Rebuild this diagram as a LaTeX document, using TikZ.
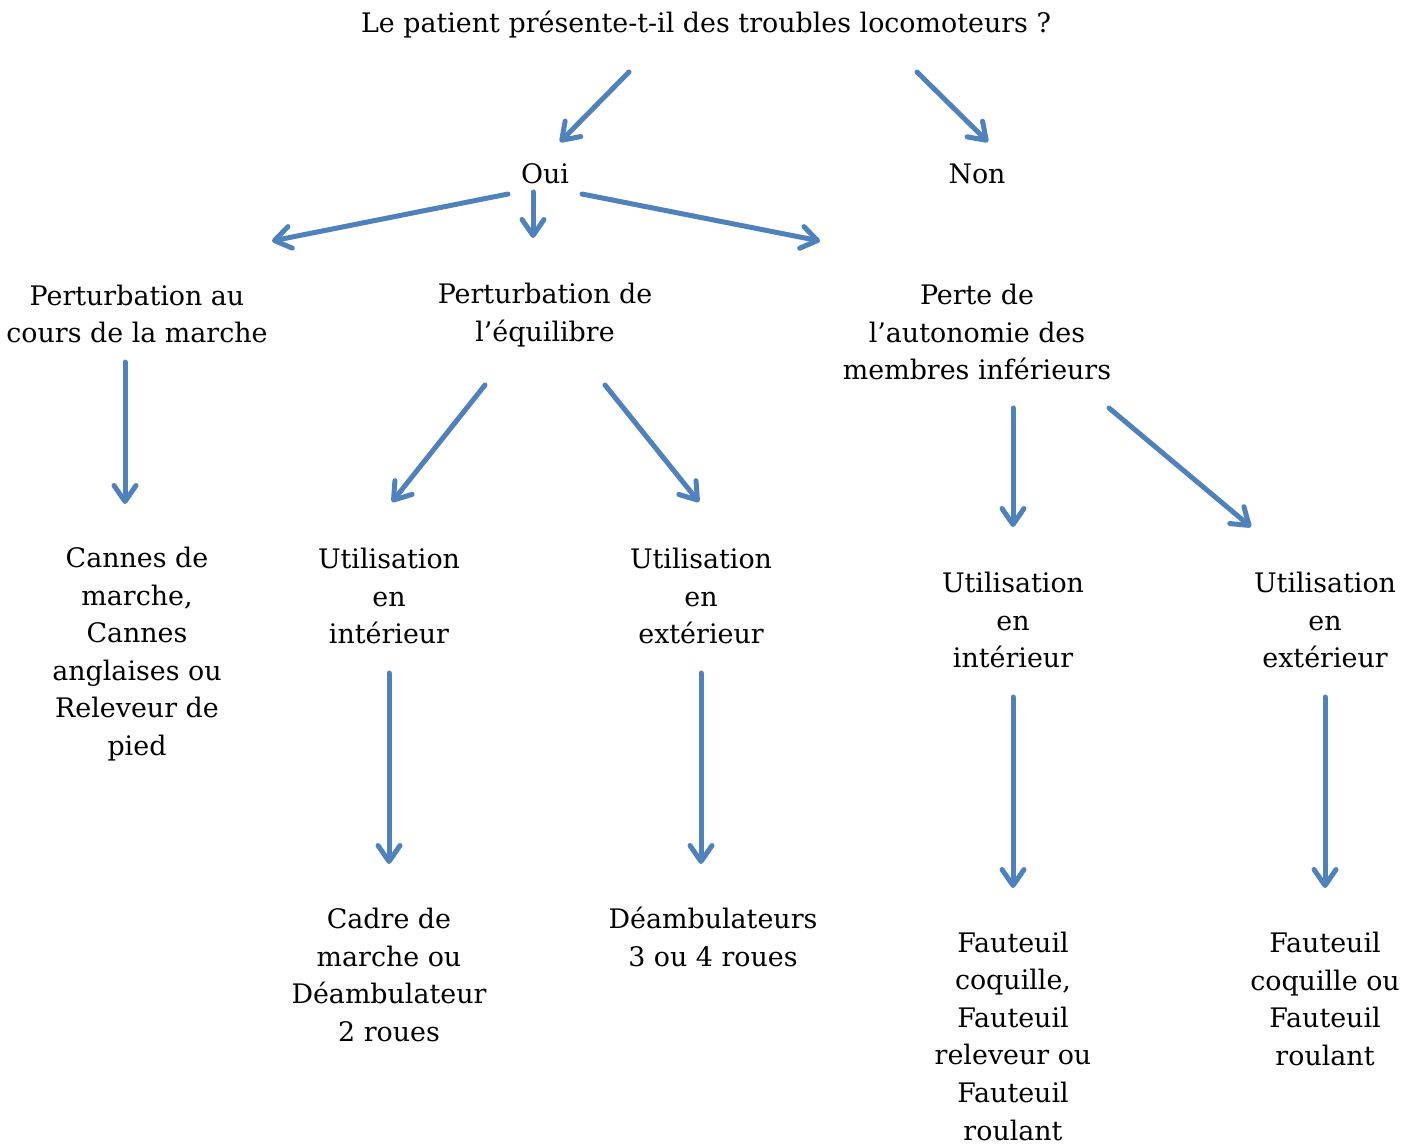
\documentclass[tikz,border=0pt]{standalone}
\usepackage{fontspec}
\setmainfont{DejaVu Serif}
\usetikzlibrary{arrows.meta}
\definecolor{arrowblue}{RGB}{79,129,189}

\begin{document}
\begin{tikzpicture}[x=0.02cm, y=-0.02cm,
	txt/.style={align=center, inner sep=0pt, font=\fontsize{15.3}{21.4}\selectfont},
	arr/.style={draw=arrowblue, line width=0.1cm, line cap=round,
		-{Straight Barb[length=0.32cm, width=0.44cm, line cap=round, line join=round]}}]
	\useasboundingbox (0,0) rectangle (1419,1144);

	%Nodes
	\node[txt] (question) at (706,25)   {Le patient présente-t-il des troubles locomoteurs ?};
	\node[txt] (oui)      at (545,174)  {Oui};
	\node[txt] (non)      at (977,174)  {Non};
	\node[txt] (marche)   at (137,314)  {Perturbation au\\cours de la marche};
	\node[txt] (equil)    at (545,315)  {Perturbation de\\l’équilibre};
	\node[txt] (perte)    at (977,332)  {Perte de\\l’autonomie des\\membres inférieurs};
	\node[txt] (cannes)   at (137,654)  {Cannes de\\marche,\\Cannes\\anglaises ou\\Releveur de\\pied};
	\node[txt] (eqint)    at (389,596)  {Utilisation\\en\\intérieur};
	\node[txt] (eqext)    at (701,596)  {Utilisation\\en\\extérieur};
	\node[txt] (peint)    at (1013,620) {Utilisation\\en\\intérieur};
	\node[txt] (peext)    at (1325,620) {Utilisation\\en\\extérieur};
	\node[txt] (cadre)    at (389,975)  {Cadre de\\marche ou\\Déambulateur\\2 roues};
	\node[txt] (deamb)    at (713,937)  {Déambulateurs\\3 ou 4 roues};
	\node[txt] (fint)     at (1013,1036) {Fauteuil\\coquille,\\Fauteuil\\releveur ou\\Fauteuil\\roulant};
	\node[txt] (fext)     at (1325,999) {Fauteuil\\coquille ou\\Fauteuil\\roulant};

	%Arrow ends
	\coordinate (q-oui)    at (629,72);
	\coordinate (oui-in)   at (560,142);
	\coordinate (q-non)    at (917,72);
	\coordinate (non-in)   at (988,142);
	\coordinate (oui-l)    at (508,194);
	\coordinate (marche-in) at (272,241);
	\coordinate (oui-d)    at (533,192);
	\coordinate (equil-in) at (533,238);
	\coordinate (oui-r)    at (582,194);
	\coordinate (perte-in) at (820,241);
	\coordinate (marche-d) at (125,362);
	\coordinate (cannes-in) at (125,504);
	\coordinate (equil-l)  at (485,385);
	\coordinate (eqint-in) at (392,502);
	\coordinate (equil-r)  at (605,385);
	\coordinate (eqext-in) at (699,502);
	\coordinate (perte-l)  at (1013,408);
	\coordinate (peint-in) at (1013,527);
	\coordinate (perte-r)  at (1109,408);
	\coordinate (peext-in) at (1251,527);
	\coordinate (eqint-d)  at (389,673);
	\coordinate (cadre-in) at (389,864);
	\coordinate (eqext-d)  at (701,673);
	\coordinate (deamb-in) at (701,864);
	\coordinate (peint-d)  at (1013,697);
	\coordinate (fint-in)  at (1013,888);
	\coordinate (peext-d)  at (1325,697);
	\coordinate (fext-in)  at (1325,888);

	%Arrows
	\draw[arr] (q-oui) -- (oui-in);
	\draw[arr] (q-non) -- (non-in);
	\draw[arr] (oui-l) -- (marche-in);
	\draw[arr] (oui-d) -- (equil-in);
	\draw[arr] (oui-r) -- (perte-in);
	\draw[arr] (marche-d) -- (cannes-in);
	\draw[arr] (equil-l) -- (eqint-in);
	\draw[arr] (equil-r) -- (eqext-in);
	\draw[arr] (perte-l) -- (peint-in);
	\draw[arr] (perte-r) -- (peext-in);
	\draw[arr] (eqint-d) -- (cadre-in);
	\draw[arr] (eqext-d) -- (deamb-in);
	\draw[arr] (peint-d) -- (fint-in);
	\draw[arr] (peext-d) -- (fext-in);

\end{tikzpicture}
\end{document}
